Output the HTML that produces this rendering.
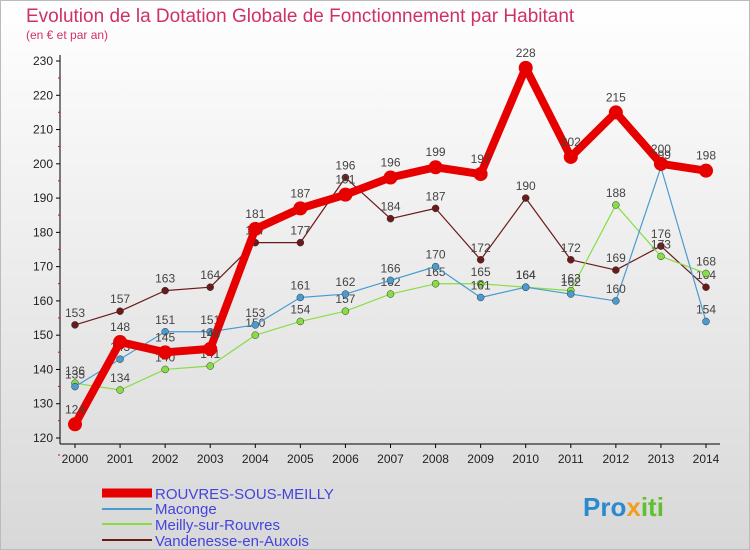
<!DOCTYPE html>
<html><head><meta charset="utf-8"><style>
body{margin:0;width:750px;height:550px;overflow:hidden;font-family:"Liberation Sans","DejaVu Sans",sans-serif;}
#bg{position:absolute;left:0;top:0;width:748px;height:548px;border:1px solid #bbb;background:linear-gradient(#ffffff,#d8d8d8);}
</style></head><body>
<div id="bg"></div>
<svg id="c" width="750" height="550" style="position:absolute;left:0;top:0">
<text x="26" y="22" font-size="19" fill="#d0306a">Evolution de la Dotation Globale de Fonctionnement par Habitant</text>
<text x="26" y="39" font-size="12" fill="#d0306a">(en € et par an)</text>
<g id="axes"></g><g id="series"></g>
<g>
<line x1="102" y1="493" x2="152" y2="493" stroke="#e60000" stroke-width="9"/>
<text x="155" y="499" font-size="15" fill="#4444dd">ROUVRES-SOUS-MEILLY</text>
<line x1="102" y1="509" x2="152" y2="509" stroke="#4a9bd0" stroke-width="2"/>
<text x="155" y="514" font-size="15" fill="#4444dd">Maconge</text>
<line x1="102" y1="524" x2="152" y2="524" stroke="#88dd44" stroke-width="2"/>
<text x="155" y="530" font-size="15" fill="#4444dd">Meilly-sur-Rouvres</text>
<line x1="102" y1="540" x2="152" y2="540" stroke="#6b1a1a" stroke-width="2"/>
<text x="155" y="546" font-size="15" fill="#4444dd">Vandenesse-en-Auxois</text>
</g>
<text x="583" y="516" font-size="26" font-weight="bold" fill="#2a8ad0">Pro<tspan fill="#f0a020">x</tspan><tspan fill="#60c030">iti</tspan></text>
</svg>
<script>
const years=[2000,2001,2002,2003,2004,2005,2006,2007,2008,2009,2010,2011,2012,2013,2014];
const yTicks=[120,130,140,150,160,170,180,190,200,210,220,230];
const rouvres=[124,148,145,146,181,187,191,196,199,197,228,202,215,200,198];
const maconge=[135,143,151,151,153,161,162,166,170,161,164,162,160,199,154];
const meilly=[136,134,140,141,150,154,157,162,165,165,164,163,188,173,168];
const vandenesse=[153,157,163,164,177,177,196,184,187,172,190,172,169,176,164];
const NS="http://www.w3.org/2000/svg";
const X=i=>75+i*(706-75)/(years.length-1);
const Y=v=>438-(v-120)*(438-61)/110;
function mk(tag,attrs,parent){const e=document.createElementNS(NS,tag);for(const k in attrs)e.setAttribute(k,attrs[k]);parent.appendChild(e);return e;}
const ax=document.getElementById('axes');
const yl=mk('line',{x1:60,y1:55,x2:60,y2:444,stroke:'#000'},ax);


const xl=mk('line',{x1:60,y1:444,x2:720,y2:444,stroke:'#000'},ax);


yTicks.forEach(t=>{const y=Y(t);
mk('line',{x1:56,y1:y,x2:60,y2:y,stroke:'#000'},ax);
mk('line',{x1:58,y1:y+17,x2:60,y2:y+17,stroke:'#e00'},ax);
const tx=mk('text',{x:53,y:y+4,'font-size':12,'text-anchor':'end',fill:'#222'},ax);tx.textContent=t;

});
years.forEach((yr,i)=>{const x=X(i);
mk('line',{x1:x,y1:444,x2:x,y2:448,stroke:'#000'},ax);
const tx=mk('text',{x:x,y:463,'font-size':12,'text-anchor':'middle',fill:'#222'},ax);tx.textContent=yr;

});
const sg=document.getElementById('series');
function series(vals,color,w,r,name){
const g=mk('g',{},sg);


mk('polyline',{points:vals.map((v,i)=>X(i)+','+Y(v)).join(' '),fill:'none',stroke:color,'stroke-width':w,'stroke-linejoin':'round'},g);
vals.forEach((v,i)=>{const c=mk('circle',{cx:X(i),cy:Y(v),r:r,fill:color,stroke:w>3?'none':'#333','stroke-width':0.5},g);


const t=mk('text',{x:X(i),y:Y(v)-(w>3?11:8),'font-size':12,'text-anchor':'middle',fill:'#444'},g);t.textContent=v;

});}
series(vandenesse,'#6b1a1a',1.2,3.5,'series-vandenesse');
series(meilly,'#88dd44',1.2,3.5,'series-meilly');
series(maconge,'#4a9bd0',1.2,3.5,'series-maconge');
series(rouvres,'#e60000',8,7,'series-rouvres');
</script>
</body></html>
